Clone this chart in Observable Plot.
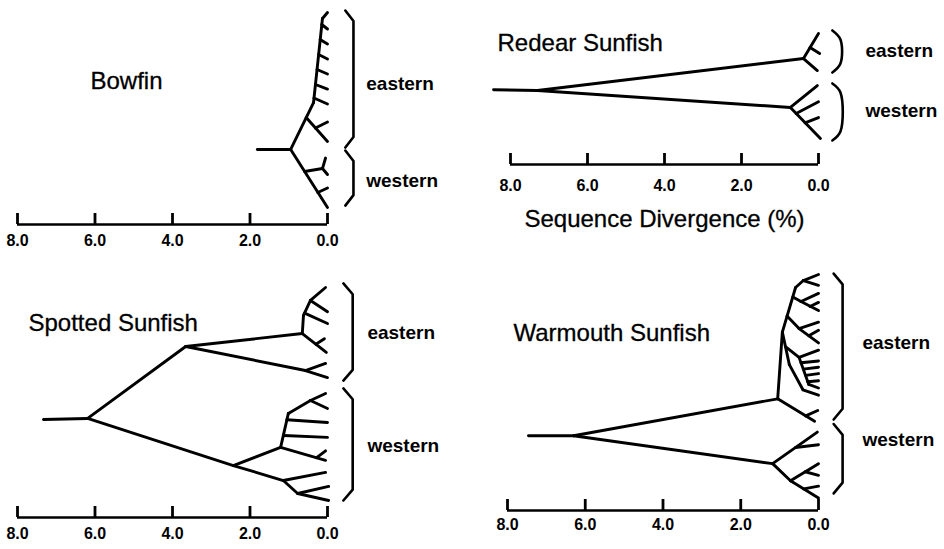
<!DOCTYPE html>
<html>
<head>
<meta charset="utf-8">
<script src="https://cdn.jsdelivr.net/npm/d3@7"></script>
<script src="https://cdn.jsdelivr.net/npm/@observablehq/plot@0.6"></script>
<style>
html, body { margin: 0; padding: 0; background: #fff; }
#chart { position: relative; width: 944px; height: 549px; overflow: hidden; background: #fff;
  font-family: "Liberation Sans", Arial, Helvetica, sans-serif; }
#chart svg { position: absolute; overflow: visible; }
</style>
</head>
<body>
<div id="chart"></div>
<script>
// ---------- data ----------
const axisTicks = [8, 6, 4, 2, 0];
const panelTitles = ["Bowfin", "Redear Sunfish", "Spotted Sunfish", "Warmouth Sunfish"];
const groupNames = ["eastern", "western"];
const axisTitle = "Sequence Divergence (%)";

// tree branches: [x1, y1, x2, y2]; x = sequence divergence (%), y = tip rank (top = 0)
const bowfinEdges = [
  [1.81, 9.13, 0.95, 9.13],
  [0.95, 9.13, 0.36, 6.0],
  [0.36, 6.0, 0.13, 0.4],
  [0.13, 0.4, 0.0, 0.0],
  [0.15, 0.8, 0.0, 1.1],
  [0.19, 1.8, 0.0, 2.1],
  [0.23, 2.8, 0.0, 3.1],
  [0.27, 3.8, 0.0, 4.1],
  [0.31, 4.8, 0.0, 5.1],
  [0.35, 5.7, 0.0, 6.1],
  [0.55, 7.0, 0.0, 8.6],
  [0.31, 7.7, 0.0, 7.3],
  [0.95, 9.13, 0.0, 13.0],
  [0.59, 10.6, 0.13, 10.4],
  [0.13, 10.4, 0.05, 9.7],
  [0.13, 10.4, 0.0, 10.8],
  [0.25, 12.0, 0.0, 11.7]
];
const redearEdges = [
  [8.44, 3.75, 7.30, 3.8],
  [7.30, 3.8, 0.39, 1.67],
  [7.30, 3.8, 0.73, 4.93],
  [0.39, 1.67, 0.0, 0.0],
  [0.39, 1.67, 0.03, 2.47],
  [0.22, 0.93, -0.03, 1.33],
  [0.73, 4.93, 0.03, 3.47],
  [0.73, 4.93, -0.05, 7.0],
  [0.58, 5.33, 0.0, 4.55],
  [0.35, 5.95, 0.0, 5.6]
];
const spottedEdges = [
  [7.33, 9.78, 6.19, 9.70],
  [6.19, 9.70, 3.66, 4.37],
  [3.66, 4.37, 0.65, 3.41],
  [3.66, 4.37, 0.57, 6.15],
  [0.65, 3.41, 0.62, 2.07],
  [0.62, 2.07, 0.44, 0.96],
  [0.44, 0.96, 0.05, 0.0],
  [0.44, 0.96, 0.0, 1.8],
  [0.59, 1.9, 0.0, 2.67],
  [0.65, 3.41, 0.03, 4.81],
  [0.30, 4.2, 0.08, 3.8],
  [0.57, 6.15, 0.05, 5.63],
  [0.57, 6.15, 0.0, 6.67],
  [6.19, 9.70, 2.43, 13.19],
  [2.43, 13.19, 1.21, 11.85],
  [2.43, 13.19, 1.14, 14.3],
  [1.21, 11.85, 1.01, 9.33],
  [1.01, 9.33, 0.44, 8.37],
  [0.44, 8.37, 0.05, 7.85],
  [0.44, 8.37, 0.0, 8.96],
  [1.05, 9.8, 0.0, 10.0],
  [1.13, 10.96, 0.0, 11.1],
  [1.21, 11.85, 0.05, 12.8],
  [0.28, 12.61, 0.05, 12.1],
  [1.14, 14.3, 0.05, 13.7],
  [1.14, 14.3, 0.77, 15.26],
  [0.77, 15.26, -0.03, 14.74],
  [0.77, 15.26, -0.03, 15.78]
];
const warmouthEdges = [
  [7.46, 17.9, 6.30, 17.9],
  [6.30, 17.9, 1.05, 13.8],
  [6.30, 17.9, 1.18, 21.0],
  [1.05, 13.8, 0.93, 6.4],
  [0.93, 6.4, 0.59, 1.44],
  [0.59, 1.44, 0.39, 0.67],
  [0.39, 0.67, 0.0, 0.0],
  [0.39, 0.67, 0.0, 1.2],
  [1.05, 13.8, 0.1, 16.3],
  [0.33, 15.7, 0.02, 15.1],
  [0.93, 6.4, 0.75, 10.0],
  [0.75, 10.0, 0.4, 12.8],
  [0.4, 12.8, 0.0, 13.4],
  [0.66, 2.5, 0.45, 3.0],
  [0.45, 3.0, 0.0, 2.1],
  [0.45, 3.0, 0.0, 4.0],
  [0.22, 3.55, 0.0, 3.1],
  [0.81, 4.6, 0.5, 6.0],
  [0.5, 6.0, 0.0, 5.3],
  [0.5, 6.0, 0.0, 7.6],
  [0.25, 6.8, 0.0, 6.2],
  [0.85, 8.0, 0.5, 9.2],
  [0.5, 9.2, 0.0, 8.4],
  [0.5, 9.2, 0.25, 12.2],
  [0.45, 9.8, 0.0, 9.6],
  [0.39, 10.5, 0.0, 10.3],
  [0.33, 11.2, 0.0, 11.0],
  [0.28, 11.9, 0.0, 11.8],
  [0.25, 12.2, 0.0, 12.6],
  [1.18, 21.0, 0.03, 17.5],
  [0.59, 19.2, 0.0, 18.9],
  [1.18, 21.0, 0.72, 22.9],
  [0.72, 22.9, 0.0, 21.0],
  [0.34, 21.9, 0.0, 22.3],
  [0.72, 22.9, 0.0, 24.8],
  [0.38, 23.8, 0.0, 23.5]
];

// clade brackets: [first tip, last tip, label tip]  (eastern, western)
const bowfinGroups = [[-0.13, 9.0, 4.73], [9.2, 12.87, 11.2]];
const redearGroups = [[-0.2, 2.6, 1.13], [3.33, 7.13, 5.13]];
const spottedGroups = [[-0.3, 6.9, 3.4], [7.48, 15.78, 11.7]];
const warmouthGroups = [[-0.1, 16.1, 7.56], [16.6, 24.3, 18.4]];

// ---------- layout ----------
const panels = [
  {edges: bowfinEdges, groups: bowfinGroups, left: 0, top: 0, width: 472, height: 260,
   mL: 17, mR: 145, mT: 12, mB: 36, yMax: 14.13,
   braceX: -0.67, hookX: -0.46, hook: 0.7, labelX: -1.0, tickDy: 21, tdx: 73, tdy: 76, curve: "linear"},
  {edges: redearEdges, groups: redearGroups, left: 472, top: 0, width: 472, height: 260,
   mL: 38, mR: 126, mT: 33, mB: 96, yMax: 8.73,
   braceX: -0.57, hookX: -0.36, hook: 0.6, labelX: -1.22, tickDy: 26, tdx: -13, tdy: 17, curve: "catmull-rom",
   axisTitleDy: 62},
  {edges: spottedEdges, groups: spottedGroups, left: 0, top: 260, width: 472, height: 289,
   mL: 17, mR: 145, mT: 27, mB: 32, yMax: 17.04,
   braceX: -0.65, hookX: -0.41, hook: 0.8, labelX: -1.03, tickDy: 21, tdx: 11, tdy: 43, curve: "linear"},
  {edges: warmouthEdges, groups: warmouthGroups, left: 472, top: 260, width: 472, height: 289,
   mL: 35, mR: 126, mT: 14, mB: 39, yMax: 26.2,
   braceX: -0.62, hookX: -0.39, hook: 1.2, labelX: -1.13, tickDy: 19, tdx: 6, tdy: 66, curve: "linear"}
];

function bracePoints(groups, p) {
  const pts = [];
  groups.forEach((g, i) => {
    const [y1, y2] = g;
    pts.push({g: i, x: p.hookX, y: y1}, {g: i, x: p.braceX, y: y1 + p.hook},
             {g: i, x: p.braceX, y: y2 - p.hook}, {g: i, x: p.hookX, y: y2});
  });
  return pts;
}

const container = document.getElementById("chart");
const font = '"Liberation Sans", Arial, Helvetica, sans-serif';

panels.forEach((p, i) => {
  const frameH = p.height - p.mT - p.mB;
  const marks = [
    Plot.link(p.edges, {x1: d => d[0], y1: d => d[1], x2: d => d[2], y2: d => d[3],
      stroke: "#000", strokeWidth: 2.9, strokeLinecap: "round", strokeLinejoin: "round"}),
    Plot.line(bracePoints(p.groups, p), {x: "x", y: "y", z: "g", curve: p.curve,
      stroke: "#000", strokeWidth: 2.6, strokeLinecap: "round", strokeLinejoin: "round"}),
    Plot.text(p.groups, {x: () => p.labelX, y: d => d[2], text: (d, j) => groupNames[j],
      textAnchor: "start", fontSize: 19, fontWeight: "bold", fill: "#000"}),
    Plot.ruleY([p.yMax], {stroke: "#000", strokeWidth: 2.3}),
    Plot.tickX(axisTicks, {x: d => d, insetTop: frameH - 11, stroke: "#000", strokeWidth: 2.8}),
    Plot.text(axisTicks, {x: d => d, frameAnchor: "bottom", dy: p.tickDy, text: d => d.toFixed(1),
      fontSize: 16, fontWeight: "bold", fill: "#000"}),
    Plot.text([panelTitles[i]], {frameAnchor: "top-left", dx: p.tdx, dy: p.tdy, textAnchor: "start",
      lineAnchor: "bottom", fontSize: 24, fill: "#000", stroke: "#000", strokeWidth: 0.3})
  ];
  if (p.axisTitleDy) {
    marks.push(Plot.text([axisTitle], {frameAnchor: "bottom", dy: p.axisTitleDy, fontSize: 24,
      fill: "#000", stroke: "#000", strokeWidth: 0.3}));
  }
  const svg = Plot.plot({
    width: p.width, height: p.height,
    marginLeft: p.mL, marginRight: p.mR, marginTop: p.mT, marginBottom: p.mB,
    x: {domain: [8, 0], axis: null},
    y: {domain: [0, p.yMax], reverse: true, axis: null},
    style: {fontFamily: font, color: "#000", background: "transparent", overflow: "visible"},
    marks
  });
  svg.style.left = p.left + "px";
  svg.style.top = p.top + "px";
  container.appendChild(svg);
});
</script>
</body>
</html>
